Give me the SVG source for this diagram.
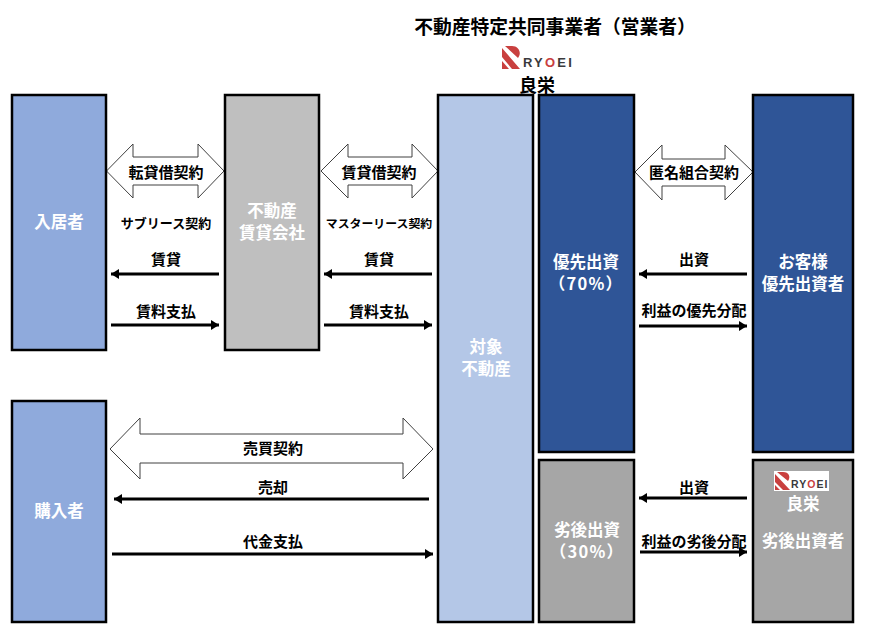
<svg xmlns="http://www.w3.org/2000/svg" width="871" height="635" viewBox="0 0 871 635">
<style>
text{font-family:"Noto Sans CJK JP","Liberation Sans",sans-serif;font-weight:700;text-anchor:middle;dominant-baseline:central}
.box{stroke:#000;stroke-width:2.5}
.w{fill:#fff;font-size:16.500px}
.p{letter-spacing:1.200px}
.l{fill:#000;font-size:15px}
.a{fill:none;stroke:#000;stroke-width:3;marker-end:url(#ah)}
.d{fill:#fff;stroke:#404040;stroke-width:1}
.lg{fill:#c9403f}
text.lt{fill:#3a3a3c;font-family:"Liberation Sans",sans-serif;text-anchor:start;dominant-baseline:auto}
</style>
<defs><marker id="ah" markerUnits="userSpaceOnUse" markerWidth="9" markerHeight="10" refX="8" refY="5" orient="auto"><path d="M0 0L8 5L0 10Z" fill="#000"/></marker></defs>
<rect width="871" height="635" fill="#fff"/>
<g id="connectors">
<path class="d" d="M106.500 171L133 144V157H198V144L224 171L198 198V185H133V198Z"/>
<path class="d" d="M321 171L348 144V157H412V144L438 171L412 198V185H348V198Z"/>
<path class="d" d="M635 172L662 145V159H725V145L753 172L725 200V186H662V200Z"/>
<path class="d" d="M110 449L140 418V434H403V418L433 449L403 479V463H140V479Z"/>
<path class="a" d="M219 274H111"/><path class="a" d="M111 325H219"/>
<path class="a" d="M432 274H324"/><path class="a" d="M324 325H432"/>
<path class="a" d="M747 274H639"/><path class="a" d="M639 326H747"/>
<path class="a" d="M747 498H639"/><path class="a" d="M640 552H747"/>
<path class="a" d="M429 499H114"/><path class="a" d="M112 554H433"/>
</g>
<g id="labels">
<text class="l" x="166" y="171">転貸借契約</text>
<text class="l" x="379" y="171">賃貸借契約</text>
<text class="l" x="694" y="171">匿名組合契約</text>
<text class="l" x="166" y="222" style="font-size:13px">サブリース契約</text>
<text class="l" x="379" y="222" style="font-size:11.900px">マスターリース契約</text>
<text class="l" x="166" y="258">賃貸</text>
<text class="l" x="166" y="310">賃料支払</text>
<text class="l" x="379" y="258">賃貸</text>
<text class="l" x="379" y="310">賃料支払</text>
<text class="l" x="694" y="258">出資</text>
<text class="l" x="694" y="309">利益の優先分配</text>
<text class="l" x="694" y="486">出資</text>
<text class="l" x="694" y="540">利益の劣後分配</text>
<text class="l" x="273" y="447">売買契約</text>
<text class="l" x="273" y="486">売却</text>
<text class="l" x="273" y="540">代金支払</text>
</g>
<g id="operator">
<text x="555" y="25" style="font-size:18.800px">不動産特定共同事業者（営業者）</text>
<path class="lg" d="M505 46H512C519 46 522 53 518 58ZM502 48L520 69H512L502 57ZM502 61L509 69H502Z"/>
<text class="lt" x="523" y="67" style="font-size:13px;letter-spacing:2.200px">RY<tspan fill="#c9403f">O</tspan>EI</text>
<text x="537" y="84" style="font-size:18px">良栄</text>
</g>
<g id="tenant"><rect class="box" x="12" y="95" width="94" height="255" fill="#8faadc"/><text class="w" x="59" y="221">入居者</text></g>
<g id="lessor"><rect class="box" x="225" y="95" width="94" height="255" fill="#bfbfbf"/><text class="w" x="272" y="210">不動産</text><text class="w" x="272" y="232">賃貸会社</text></g>
<g id="property"><rect class="box" x="438" y="95" width="95" height="527" fill="#b4c7e7"/><text class="w" x="486" y="346">対象</text><text class="w" x="486" y="368">不動産</text></g>
<g id="senior"><rect class="box" x="539" y="95" width="95" height="357" fill="#2f5597"/><text class="w" x="586" y="261">優先出資</text><text class="w p" x="586" y="283">（70%）</text></g>
<g id="customer"><rect class="box" x="753" y="95" width="100" height="357" fill="#2f5597"/><text class="w" x="803" y="261">お客様</text><text class="w" x="803" y="283">優先出資者</text></g>
<g id="buyer"><rect class="box" x="12" y="401" width="94" height="221" fill="#8faadc"/><text class="w" x="59" y="510">購入者</text></g>
<g id="junior"><rect class="box" x="539" y="460" width="95" height="162" fill="#a6a6a6"/><text class="w" x="587" y="529">劣後出資</text><text class="w p" x="587" y="551">（30%）</text></g>
<g id="ryoei"><rect class="box" x="753" y="460" width="100" height="162" fill="#a6a6a6"/>
<rect x="774" y="471" width="55" height="20" fill="#fff"/>
<path class="lg" d="M777 472H783C789 472 791 477 788 481ZM775 474L790 490H783L775 482ZM775 485L780 490H775Z"/>
<text class="lt" x="791" y="488" style="font-size:10.500px;letter-spacing:1px">RY<tspan fill="#c9403f">O</tspan>EI</text>
<text class="w" x="803" y="503">良栄</text><text class="w" x="803" y="540">劣後出資者</text></g>
</svg>
